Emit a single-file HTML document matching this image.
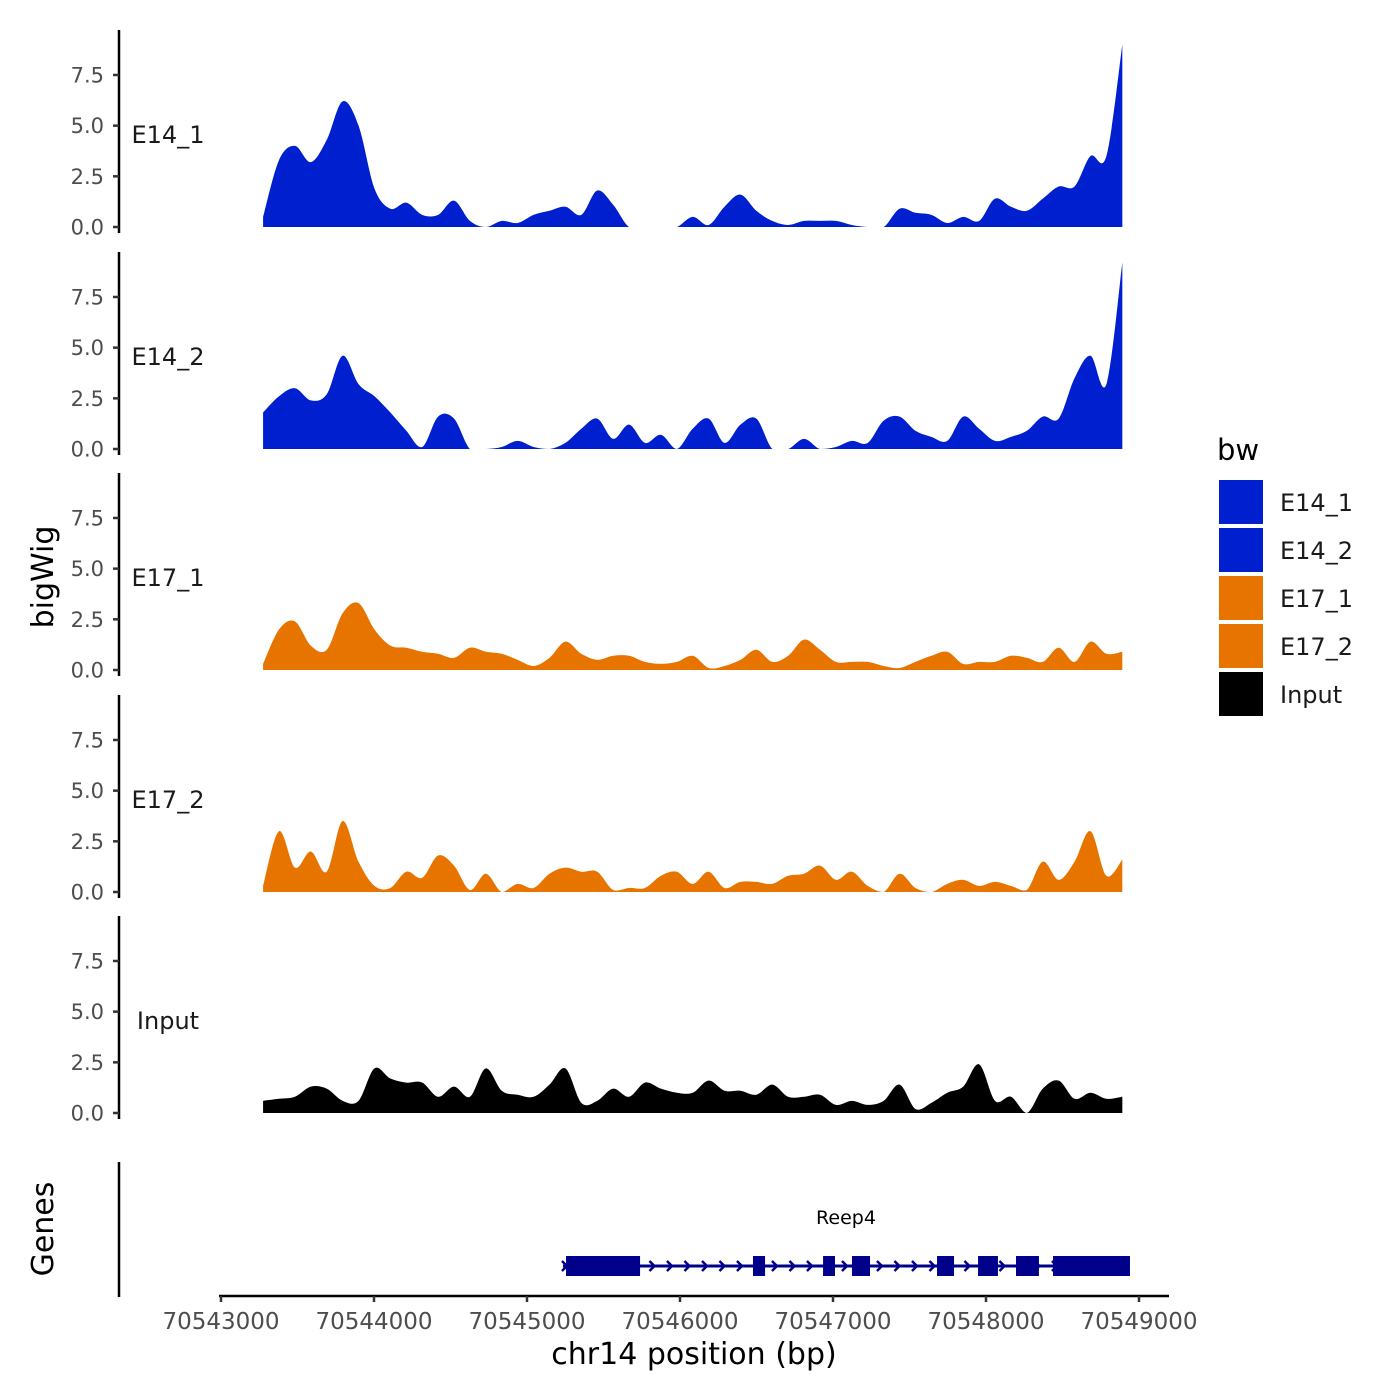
<!DOCTYPE html>
<html><head><meta charset="utf-8">
<style>
html,body{margin:0;padding:0;background:#fff;}
svg{display:block;font-family:"DejaVu Sans","Liberation Sans",sans-serif;}
</style></head>
<body>
<svg id="chart" width="1400" height="1400" viewBox="0 0 1400 1400"></svg>
<script>
const START_BP = 70543275;
const STEP_BP = 104;
const trackNames = ["E14_1","E14_2","E17_1","E17_2","Input"];
const e14_1 = [0.5,3.3,4.0,3.2,4.3,6.2,5.0,1.9,0.9,1.2,0.6,0.6,1.3,0.3,0,0.3,0.2,0.6,0.8,1.0,0.6,1.8,1.1,0,0,0,0,0.5,0.1,1.0,1.6,0.8,0.3,0.1,0.3,0.3,0.3,0.1,0,0,0.9,0.7,0.6,0.2,0.5,0.3,1.4,1.0,0.8,1.4,2.0,2.0,3.5,3.5,9.0];
const e14_2 = [1.8,2.6,3.0,2.4,2.7,4.6,3.2,2.6,1.8,0.9,0.1,1.6,1.5,0,0,0.1,0.4,0.1,0,0.3,1.0,1.5,0.5,1.2,0.3,0.7,0,1.0,1.5,0.3,1.2,1.5,0,0,0.5,0,0.1,0.4,0.3,1.4,1.6,0.9,0.6,0.4,1.6,1.0,0.4,0.6,0.9,1.6,1.5,3.5,4.6,3.2,9.2];
const e17_1 = [0.3,2.0,2.4,1.2,1.0,2.8,3.3,2.0,1.2,1.1,0.9,0.8,0.6,1.1,0.9,0.8,0.5,0.2,0.6,1.4,0.8,0.5,0.7,0.7,0.4,0.3,0.4,0.7,0.1,0.2,0.5,1.0,0.4,0.7,1.5,1.0,0.4,0.4,0.4,0.2,0.1,0.4,0.7,0.9,0.3,0.4,0.4,0.7,0.6,0.4,1.1,0.4,1.4,0.8,0.9];
const e17_2 = [0.3,3.0,1.2,2.0,1.0,3.5,1.5,0.3,0.2,1.0,0.7,1.8,1.3,0.1,0.9,0,0.4,0.2,0.9,1.2,1.0,1.0,0.1,0.2,0.2,0.8,1.0,0.4,1.0,0.2,0.5,0.5,0.4,0.8,0.9,1.3,0.6,1.0,0.3,0,0.9,0.2,0,0.4,0.6,0.3,0.5,0.3,0.1,1.5,0.6,1.5,3.0,0.8,1.6];
const input = [0.6,0.7,0.8,1.3,1.2,0.6,0.6,2.2,1.7,1.5,1.5,0.8,1.3,0.8,2.2,1.1,0.9,0.8,1.4,2.2,0.5,0.6,1.2,0.8,1.5,1.2,1.0,1.0,1.6,1.1,1.1,0.9,1.4,0.8,0.8,0.9,0.4,0.6,0.4,0.6,1.4,0.2,0.5,1.0,1.3,2.4,0.6,0.8,0,1.2,1.6,0.7,1.0,0.7,0.8];
const yTicks = [0,2.5,5,7.5];
const yTickLabels = ["0.0","2.5","5.0","7.5"];
const xTicks = [70543000,70544000,70545000,70546000,70547000,70548000,70549000];
const exonStarts = [70545255,70546477,70546935,70547124,70547680,70547948,70548196,70548438];
const exonEnds   = [70545739,70546556,70547013,70547242,70547791,70548078,70548346,70548941];
const geneStart = 70545235, geneEnd = 70548928;
const legendLabels = ["E14_1","E14_2","E17_1","E17_2","Input"];

const BLUE="#0020CF", ORANGE="#E87400", BLACK="#000000";
const trackColors=[BLUE,BLUE,ORANGE,ORANGE,BLACK];
const seriesList=[e14_1,e14_2,e17_1,e17_2,input];
const zeros=[227,449,670,892,1113];
const svg=document.getElementById('chart');
const NS="http://www.w3.org/2000/svg";
function xScale(bp){return 221+(bp-70543000)*0.153;}
function yScale(v,z){return z-v*20.27;}
function mk(tag,attrs,parent){const e=document.createElementNS(NS,tag);for(const k in attrs)e.setAttribute(k,attrs[k]);(parent||svg).appendChild(e);return e;}

seriesList.forEach((vals,t)=>{
  const z=zeros[t];
  const g=mk('g',{});
  
  
  const ax=mk('line',{x1:119,x2:119,y1:z-197,y2:z+6,stroke:'#000','stroke-width':2.5},g);
  
  
  yTicks.forEach((tv,i)=>{
    const y=yScale(tv,z);
    const tk=mk('line',{x1:113,x2:119,y1:y,y2:y,stroke:'#333','stroke-width':2.5},g);
    
    
    const tl=mk('text',{x:104,y:y+7.5,'text-anchor':'end','font-size':21,fill:'#4d4d4d'},g);
    tl.textContent=yTickLabels[i];
    
    
  });
  const pts=vals.map((v,i)=>[xScale(START_BP+i*STEP_BP),yScale(Math.max(0,v),z)]);
  let d='M'+pts[0][0]+','+z+' L'+pts[0][0]+','+pts[0][1];
  for(let i=0;i<pts.length-1;i++){
    const p0=pts[Math.max(0,i-1)],p1=pts[i],p2=pts[i+1],p3=pts[Math.min(pts.length-1,i+2)];
    const c1x=p1[0]+(p2[0]-p0[0])/6,c1y=Math.min(z,p1[1]+(p2[1]-p0[1])/6);
    const c2x=p2[0]-(p3[0]-p1[0])/6,c2y=Math.min(z,p2[1]-(p3[1]-p1[1])/6);
    d+=' C'+c1x+','+c1y+' '+c2x+','+c2y+' '+p2[0]+','+p2[1];
  }
  d+=' L'+pts[pts.length-1][0]+','+z+' Z';
  const area=mk('path',{d:d,fill:trackColors[t]},g);
  
  
  const lab=mk('text',{x:168,y:z-84,'text-anchor':'middle','font-size':24,fill:'#1a1a1a'},g);
  lab.textContent=trackNames[t];
  
  
});

const gAx=mk('line',{x1:119,x2:119,y1:1162,y2:1297,stroke:'#000','stroke-width':2.5});


const gy=1266;
const intron=mk('line',{x1:xScale(geneStart),x2:xScale(geneEnd),y1:gy,y2:gy,stroke:'#00008B','stroke-width':3});


for(let x=xScale(geneStart)+2;x<xScale(geneEnd);x+=17.5){
  const ch=mk('path',{d:'M'+(x-3)+','+(gy-5)+' L'+(x+2)+','+gy+' L'+(x-3)+','+(gy+5),stroke:'#00008B','stroke-width':2.5,fill:'none'});
  
  
}
exonStarts.forEach((s,i)=>{
  const x1=xScale(s),x2=xScale(exonEnds[i]);
  const r=mk('rect',{x:x1,y:gy-10,width:x2-x1,height:20,fill:'#00008B'});
  
  
});
const gl=mk('text',{x:846,y:1224,'text-anchor':'middle','font-size':19,fill:'#000'});
gl.textContent='Reep4';



const xa=mk('line',{x1:219,x2:1169,y1:1296,y2:1296,stroke:'#000','stroke-width':2.5});


xTicks.forEach(v=>{
  const x=xScale(v);
  const tk=mk('line',{x1:x,x2:x,y1:1296,y2:1302,stroke:'#333','stroke-width':2.5});
  
  
  const tl=mk('text',{x:x,y:1329,'text-anchor':'middle','font-size':23,fill:'#4d4d4d'});
  tl.textContent=String(v);
  
  
});
const xt=mk('text',{x:694,y:1364,'text-anchor':'middle','font-size':30,fill:'#000'});
xt.textContent='chr14 position (bp)';


const yt=mk('text',{x:0,y:0,'text-anchor':'middle','font-size':30,fill:'#000',transform:'translate(53,577) rotate(-90)'});
yt.textContent='bigWig';


const gt=mk('text',{x:0,y:0,'text-anchor':'middle','font-size':30,fill:'#000',transform:'translate(53,1229) rotate(-90)'});
gt.textContent='Genes';



const lt=mk('text',{x:1217,y:460,'font-size':29,fill:'#000'});
lt.textContent='bw';


legendLabels.forEach((l,i)=>{
  const y=480+i*48;
  const r=mk('rect',{x:1219,y:y,width:44,height:44,fill:trackColors[i]});
  
  
  const t=mk('text',{x:1280,y:y+31,'font-size':24,fill:'#1a1a1a'});
  t.textContent=l;
  
  
});
</script>
</body></html>
